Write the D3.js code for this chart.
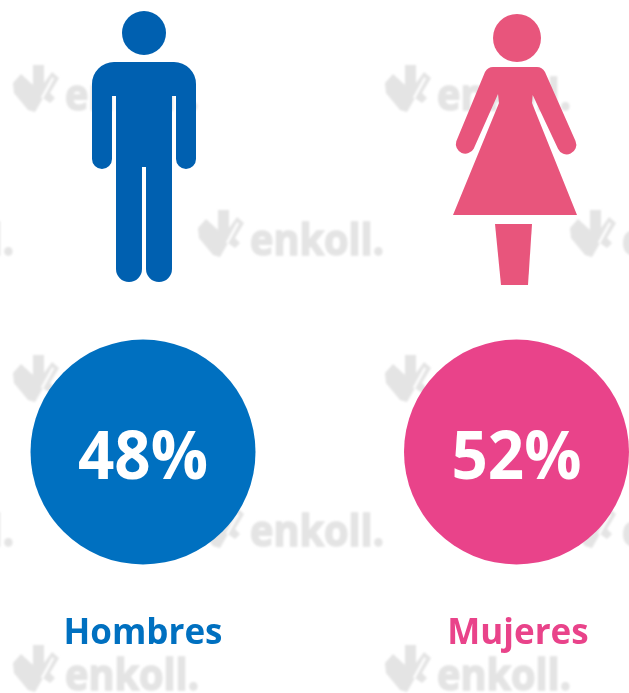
<!DOCTYPE html>
<html>
<head>
<meta charset="utf-8">
<script src="https://cdn.jsdelivr.net/npm/d3@7"></script>
<style>
  html, body { margin: 0; padding: 0; background: #fff; }
  svg { display: block; }
</style>
</head>
<body>
<svg id="chart"></svg>
<script>
const categories = ["Hombres", "Mujeres"]
const percentages = [48, 52]
const colors = ["#0070c0", "#e9438a"]
const iconColors = ["#0060b0", "#e8557c"]

const width = 629, height = 693

//watermark stamps, top left corner of each logo
const stamps = [
  [13, 65], [385, 65],
  [-172, 210], [198, 210], [570, 210],
  [13, 355], [385, 355],
  [-172, 501], [198, 501], [570, 501],
  [13, 645], [385, 645]
]

//icons are drawn around their own center line, y is from the top of the picture
const manPath = "M-30,62H30A22,22 0 0 1 52,84V159A10,10 0 0 1 32,159V96H28V269A13,13 0 0 1 2,269V167H-2V269A13,13 0 0 1 -28,269V96H-32V159A10,10 0 0 1 -52,159V84A22,22 0 0 1 -30,62Z"
const womanPath = "M-24,67H20Q25,67 28,72L58.5,141A9.5,9.5 0 0 1 41,148.7L15.7,95L15,103L60,215H-64L-18,103L-19,94L-43.3,148.7A9.5,9.5 0 0 1 -60.7,141.3L-32,72Q-29,67 -24,67Z"
const womanLegs = "M-22,224H15L11,285H-16Z"
const logoPath = "M0,18L8,9L20,20V0H31V18L39,7L46,13L37,28L42,33L37,38L30,33L22,47L15,45L1,28Z"

const svg = d3.select("#chart")
  .attr("width", width)
  .attr("height", height)
  .attr("viewBox", `0 0 ${width} ${height}`)

svg.append("rect").attr("width", width).attr("height", height).attr("fill", "#fff")

svg.append("defs").append("filter")
  .attr("id", "soft")
  .append("feGaussianBlur")
  .attr("stdDeviation", 0.9)

//watermarks go first, everything else sits on top of them
const stamp = svg.append("g")
  .attr("filter", "url(#soft)")
  .selectAll("g")
  .data(stamps)
  .join("g")
  .attr("transform", d => `translate(${d[0]},${d[1]})`)

stamp.append("path")
  .attr("d", logoPath)
  .attr("fill", "#e4e4e4")
stamp.append("path")
  .attr("d", "M40,13L29,33")
  .attr("fill", "none")
  .attr("stroke", "#fff")
  .attr("stroke-width", 2.5)
stamp.append("text")
  .attr("x", 52)
  .attr("y", 45)
  .attr("font-family", "'Open Sans', sans-serif")
  .attr("font-weight", 700)
  .attr("font-size", 43)
  .attr("textLength", 134)
  .attr("lengthAdjust", "spacingAndGlyphs")
  .attr("fill", "#e4e4e4")
  .attr("stroke", "#e4e4e4")
  .attr("stroke-width", 1.6)
  .text("enkoll.")

const x = d3.scalePoint()
  .domain(categories)
  .range([143, 516.5])

//labels under the circles are not quite centered on them
const labelX = d3.scalePoint()
  .domain(categories)
  .range([143, 518])

//circles are the same size whatever the value is
const group = svg.append("g")
  .selectAll("g")
  .data(categories)
  .join("g")
  .attr("transform", d => `translate(${x(d)},0)`)

group.append("circle")
  .attr("cy", 452)
  .attr("r", 112.5)
  .attr("fill", (d, i) => colors[i])

group.append("text")
  .attr("y", 479)
  .attr("text-anchor", "middle")
  .attr("font-family", "'Open Sans', sans-serif")
  .attr("font-weight", 700)
  .attr("font-size", 66)
  .attr("textLength", 130)
  .attr("lengthAdjust", "spacingAndGlyphs")
  .attr("fill", "#fff")
  .text((d, i) => percentages[i] + "%")

svg.append("g")
  .selectAll("text")
  .data(categories)
  .join("text")
  .attr("x", d => labelX(d))
  .attr("y", 644)
  .attr("text-anchor", "middle")
  .attr("font-family", "'Open Sans', sans-serif")
  .attr("font-weight", 700)
  .attr("font-size", 35)
  .attr("fill", (d, i) => colors[i])
  .text(d => d)

//man
const man = group.filter((d, i) => i === 0)
man.append("circle").attr("cx", 1).attr("cy", 33).attr("r", 22).attr("fill", iconColors[0])
man.append("path").attr("transform", "translate(1,0)").attr("d", manPath).attr("fill", iconColors[0])

//woman
const woman = group.filter((d, i) => i === 1)
woman.append("circle").attr("cx", 0.5).attr("cy", 38).attr("r", 24).attr("fill", iconColors[1])
woman.append("path").attr("transform", "translate(0.5,0)").attr("d", womanPath).attr("fill", iconColors[1])
woman.append("path").attr("transform", "translate(0.5,0)").attr("d", womanLegs).attr("fill", iconColors[1])
</script>
</body>
</html>
